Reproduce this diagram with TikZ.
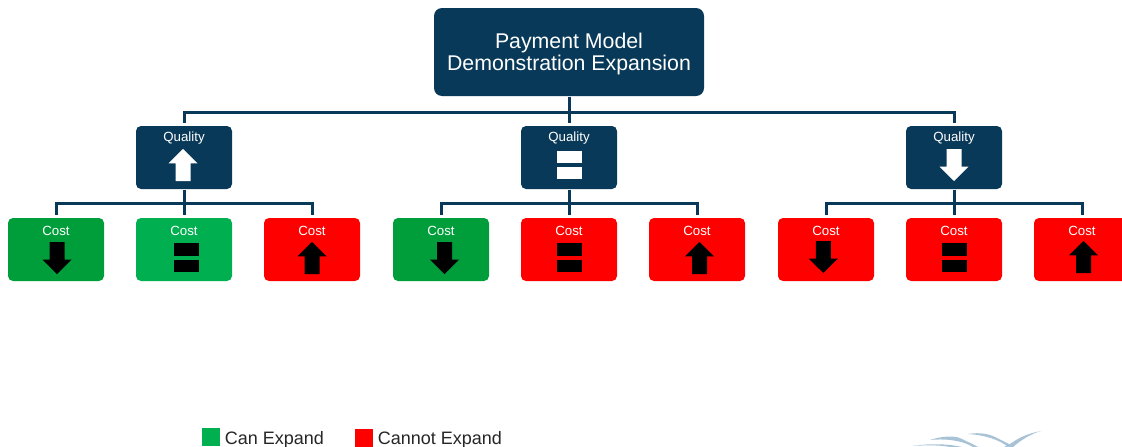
\documentclass[tikz,border=0pt]{standalone}
\usepackage{fontspec}
\setmainfont{Liberation Sans}
\usepackage{xcolor}
\usetikzlibrary{arrows}
\definecolor{navy}{HTML}{093959}
\definecolor{darkgreen}{HTML}{009E3A}
\definecolor{lightgreen}{HTML}{00B050}
\definecolor{swoosh}{HTML}{A9C3D6}

\begin{document}
\begin{tikzpicture}[x=1pt,y=1pt,semithick,
    uparrow/.pic={\path[pic actions] (0,16) -- (14.5,1.7) -- (7.5,1.7) -- (7.5,-16) -- (-7.5,-16) -- (-7.5,1.7) -- (-14.5,1.7) -- cycle;}]
  \tikzstyle{box}=[rectangle,rounded corners=5pt,draw=none,minimum width=96pt,minimum height=63pt,inner sep=0pt,outer sep=0.5pt]
  \tikzstyle{lbl}=[anchor=center,yshift=-13pt,text=white,font=\fontsize{13.3}{15}\selectfont]
  \tikzstyle{quality}=[box,fill=navy,label={[lbl]north:Quality}]
  \tikzstyle{cost}=[box,label={[lbl]north:Cost}]
  \tikzstyle{bar}=[rectangle,minimum width=25pt,minimum height=12.5pt,inner sep=0pt,draw=none]
  \tikzstyle{link}=[draw=navy,line width=3pt]
  \tikzstyle{key}=[font=\fontsize{18}{20}\selectfont,text=black!85,label distance=1pt,yshift=-2.5pt]
  \useasboundingbox (0,0) rectangle (1122,-447);

  % top box
  \node[box,fill=navy,minimum width=270pt,minimum height=88pt,rounded corners=8pt,
        label={[anchor=center,yshift=-46pt,text=white,align=center,font=\fontsize{21.3}{22}\selectfont]north:Payment Model\\Demonstration Expansion}] (top) at (569,-52) {};

  % quality row
  \node[quality,node distance=105.5pt] (Q2) [below of=top] {};
  \node[quality,node distance=385pt]   (Q1) [left of=Q2] {};
  \node[quality,node distance=385pt]   (Q3) [right of=Q2] {};

  % cost row
  \node[cost,fill=lightgreen,node distance=92pt] (C2) [below of=Q1] {};
  \node[cost,fill=darkgreen,node distance=128pt] (C1) [left of=C2] {};
  \node[cost,fill=red,node distance=128pt]       (C3) [right of=C2] {};
  \node[cost,fill=red,node distance=92pt]        (C5) [below of=Q2] {};
  \node[cost,fill=darkgreen,node distance=128pt] (C4) [left of=C5] {};
  \node[cost,fill=red,node distance=128pt]       (C6) [right of=C5] {};
  \node[cost,fill=red,node distance=92pt]        (C8) [below of=Q3] {};
  \node[cost,fill=red,node distance=128pt]       (C7) [left of=C8] {};
  \node[cost,fill=red,node distance=128pt]       (C9) [right of=C8] {};

  % quality symbols
  \pic[fill=white] (aQ1) at ([xshift=-1pt,yshift=-7.5pt]Q1.center) {uparrow};
  \node[bar,fill=white]  (bQ2) at ([yshift=0.5pt]Q2.center) {};
  \node[bar,fill=white]  (cQ2) at ([yshift=-15.5pt]Q2.center) {};
  \pic[fill=white,rotate=180] (aQ3) at ([yshift=-7.5pt]Q3.center) {uparrow};

  % cost symbols
  \pic[fill=black,rotate=180] (aC1) at ([xshift=1pt,yshift=-8.5pt]C1.center) {uparrow};
  \node[bar,fill=black]  (bC2) at ([xshift=2.5pt]C2.center) {};
  \node[bar,fill=black]  (cC2) at ([xshift=2.5pt,yshift=-16.5pt]C2.center) {};
  \pic[fill=black] (aC3) at ([yshift=-8.5pt]C3.center) {uparrow};
  \pic[fill=black,rotate=180] (aC4) at ([xshift=3.5pt,yshift=-8.5pt]C4.center) {uparrow};
  \node[bar,fill=black]  (bC5) at ([xshift=0.5pt]C5.center) {};
  \node[bar,fill=black]  (cC5) at ([xshift=0.5pt,yshift=-16.5pt]C5.center) {};
  \pic[fill=black] (aC6) at ([xshift=2.5pt,yshift=-8.5pt]C6.center) {uparrow};
  \pic[fill=black,rotate=180] (aC7) at ([xshift=-2.7pt,yshift=-7.5pt]C7.center) {uparrow};
  \node[bar,fill=black]  (bC8) at ([xshift=0.5pt]C8.center) {};
  \node[bar,fill=black]  (cC8) at ([xshift=0.5pt,yshift=-16.5pt]C8.center) {};
  \pic[fill=black] (aC9) at ([xshift=1.5pt,yshift=-7.5pt]C9.center) {uparrow};

  % connectors
  \coordinate (J0) at (569,-112);
  \coordinate (J1) at (184,-203);
  \coordinate (J2) at (569,-203);
  \coordinate (J3) at (954,-203);

  \path[link] (top) edge [shorten >=3pt] (Q2)
              (Q1.north) edge [shorten <=3pt,to path={|- (J0)}] (J0)
              (Q3.north) edge [shorten <=3pt,to path={|- (J0)}] (J0)
              (Q1) edge [shorten >=3pt] (C2)
              (C1.north) edge [shorten <=3pt,to path={|- (J1)}] (J1)
              (C3.north) edge [shorten <=3pt,to path={|- (J1)}] (J1)
              (Q2) edge [shorten >=3pt] (C5)
              (C4.north) edge [shorten <=3pt,to path={|- (J2)}] (J2)
              (C6.north) edge [shorten <=3pt,to path={|- (J2)}] (J2)
              (Q3) edge [shorten >=3pt] (C8)
              (C7.north) edge [shorten <=3pt,to path={|- (J3)}] (J3)
              (C9.north) edge [shorten <=3pt,to path={|- (J3)}] (J3);

  % legend
  \node[rectangle,fill=lightgreen,minimum size=18pt,inner sep=0pt,
        label={[key]right:Can Expand}] (K1) at (211,-437) {};
  \node[rectangle,fill=red,minimum size=18pt,inner sep=0pt,
        label={[key,yshift=1pt]right:Cannot Expand}] (K2) at (364,-438) {};

  % logo
  \fill[swoosh] (930,-440) .. controls (942,-436) and (955,-435) .. (962,-439) .. controls (968,-442) and (975,-445) .. (978,-447) -- (973,-447) .. controls (965,-442) and (950,-438) .. (930,-440);
  \fill[swoosh] (968,-434) .. controls (980,-432) and (990,-434) .. (997,-438) .. controls (1003,-441) and (1010,-444) .. (1014,-447) -- (1008,-447) .. controls (1000,-440) and (985,-435) .. (968,-434);
  \fill[swoosh] (1041,-431) .. controls (1030,-433) and (1020,-437) .. (1013,-442) .. controls (1010,-444) and (1007,-446) .. (1004,-447) -- (1013,-447) .. controls (1020,-441) and (1030,-434) .. (1041,-431);
  \fill[swoosh] (912,-446) .. controls (925,-444) and (945,-443) .. (962,-447) -- (950,-447) .. controls (940,-445) and (925,-445) .. (912,-446);
\end{tikzpicture}
\end{document}
